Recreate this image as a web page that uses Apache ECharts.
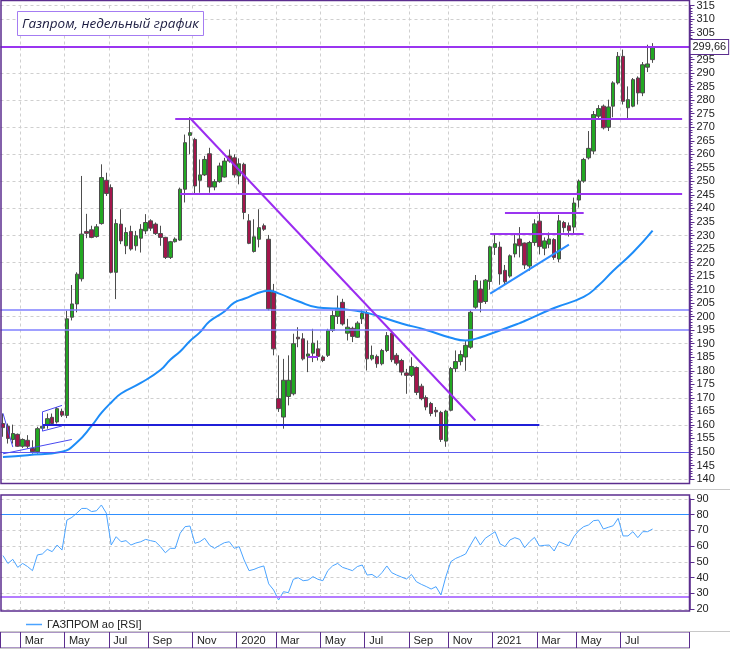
<!DOCTYPE html>
<html>
<head>
<meta charset="utf-8">
<script src="https://cdn.jsdelivr.net/npm/echarts@6/dist/echarts.min.js"></script>
<style>
    html, body { margin: 0; padding: 0; background: #fff; }
    #chart { width: 730px; height: 649px; }
</style>
</head>
<body>
<div id="chart"></div>
<script>
// недельные свечи Газпрома, фев 2019 - авг 2021
var opens = [160.5, 159.5, 154.6, 156.5, 152.1, 154.3, 151.3, 150.1, 158.8, 159.9, 162.8, 161.1, 165.0, 163.5, 199.8, 204.7, 214.0, 231.5, 232.1, 229.6,
    234.4, 250.4, 247.7, 216.4, 234.2, 226.2, 231.5, 226.2, 229.0, 231.7, 235.4, 234.2, 230.7, 229.3, 221.9, 227.7, 228.3, 247.1, 267.0, 265.5,
    250.4, 252.4, 260.2, 247.9, 249.9, 251.6, 259.4, 258.7, 252.0, 256.3, 235.4, 224.1, 228.6, 233.6, 228.6, 209.0, 169.7, 162.9, 170.5, 171.5,
    192.4, 191.8, 185.4, 186.5, 188.1, 185.1, 185.7, 194.9, 200.1, 205.3, 193.9, 195.7, 192.4, 199.2, 201.3, 184.4, 185.3, 182.6, 187.5, 193.9,
    185.7, 183.8, 179.2, 178.3, 181.2, 174.3, 170.1, 167.9, 165.4, 164.6, 154.0, 165.4, 180.8, 183.4, 185.1, 188.7, 203.5, 210.2, 205.6, 213.0,
    225.6, 225.7, 217.1, 215.0, 223.2, 228.7, 227.2, 218.7, 227.4, 235.3, 225.3, 226.8, 228.5, 221.3, 234.8, 233.6, 233.1, 243.1, 250.1, 258.7,
    261.2, 274.1, 277.8, 270.0, 277.8, 286.4, 296.2, 277.2, 277.8, 288.2, 282.7, 292.2, 295.0];
var closes = [159.0, 155.0, 156.8, 152.1, 154.6, 152.1, 150.1, 158.6, 159.5, 162.3, 160.5, 166.0, 163.6, 199.2, 204.7, 215.7, 230.5, 230.8, 229.3, 233.2,
    251.4, 245.5, 216.4, 234.4, 228.0, 231.1, 225.0, 229.9, 232.3, 234.8, 232.7, 230.7, 229.3, 221.9, 227.7, 228.7, 247.1, 264.3, 268.0, 248.3,
    252.4, 258.1, 247.9, 249.9, 255.7, 257.5, 257.5, 252.4, 256.5, 238.5, 227.1, 229.5, 232.9, 232.3, 202.9, 188.1, 166.0, 176.5, 176.5, 190.0,
    191.8, 184.4, 186.2, 190.2, 185.3, 183.8, 194.9, 200.4, 202.9, 197.3, 196.1, 192.7, 197.6, 201.2, 184.4, 185.7, 182.6, 187.5, 193.0, 184.1,
    182.8, 179.5, 178.3, 181.6, 172.0, 169.7, 166.6, 164.2, 164.8, 154.6, 165.1, 180.8, 183.4, 186.0, 189.4, 201.6, 213.3, 205.3, 213.5, 225.8,
    227.0, 215.8, 212.9, 222.5, 226.9, 226.2, 219.1, 227.4, 234.3, 225.9, 228.0, 228.7, 221.9, 235.4, 232.9, 231.8, 242.0, 250.1, 258.1, 262.2,
    274.7, 276.9, 269.8, 277.5, 286.4, 296.2, 279.6, 280.2, 287.6, 282.7, 293.1, 293.4, 299.66];
var lows = [155.6, 153.1, 153.1, 151.9, 151.5, 151.3, 149.4, 149.4, 158.0, 158.6, 159.6, 160.5, 162.9, 162.5, 198.6, 201.6, 213.0, 229.0, 229.0, 229.2,
    234.0, 244.6, 216.0, 206.5, 226.8, 223.1, 224.4, 224.4, 223.7, 230.5, 231.7, 230.2, 226.2, 221.3, 221.3, 227.4, 228.0, 242.2, 260.0, 245.2,
    245.8, 252.0, 245.8, 246.7, 249.5, 251.4, 256.9, 251.4, 248.9, 236.0, 226.8, 223.7, 225.6, 231.7, 202.3, 185.7, 164.8, 158.6, 167.2, 170.9,
    188.7, 183.8, 179.5, 183.2, 183.8, 183.2, 185.1, 194.3, 197.3, 196.7, 191.2, 190.6, 192.2, 197.3, 180.1, 183.8, 181.1, 182.0, 186.9, 183.2,
    182.0, 178.3, 171.5, 177.7, 171.0, 169.1, 165.4, 163.2, 163.0, 153.7, 151.9, 165.0, 179.5, 182.0, 180.0, 188.1, 202.9, 201.6, 204.7, 210.0,
    222.8, 211.8, 212.0, 214.4, 221.9, 221.9, 217.6, 217.0, 226.2, 223.0, 222.7, 225.3, 221.0, 220.1, 231.1, 229.6, 230.8, 240.3, 249.5, 258.1,
    260.0, 273.2, 269.2, 268.6, 273.7, 285.8, 278.4, 273.2, 277.4, 278.4, 281.5, 290.4, 293.8];
var highs = [164.2, 160.5, 160.1, 156.8, 155.0, 156.2, 154.3, 159.3, 164.8, 164.2, 164.2, 166.6, 166.0, 202.2, 211.7, 216.4, 252.0, 238.0, 233.6, 234.2,
    256.3, 253.2, 248.9, 236.0, 239.7, 233.0, 233.6, 231.7, 234.2, 237.9, 236.0, 234.8, 233.6, 229.5, 228.0, 229.3, 247.7, 267.3, 273.7, 266.1,
    258.1, 259.4, 262.4, 250.8, 256.9, 258.7, 261.8, 260.0, 258.5, 256.9, 237.9, 236.0, 239.7, 234.4, 230.2, 212.1, 185.7, 184.4, 185.7, 193.7,
    196.1, 193.9, 191.2, 195.5, 191.2, 185.7, 195.5, 202.3, 207.8, 206.6, 199.2, 196.3, 198.3, 202.5, 202.3, 189.3, 186.0, 188.1, 194.3, 194.9,
    186.5, 184.4, 180.7, 185.0, 181.6, 175.2, 170.9, 168.5, 166.6, 165.2, 165.6, 181.4, 187.5, 187.5, 191.2, 202.3, 215.4, 213.3, 213.9, 226.2,
    230.5, 227.7, 219.1, 223.0, 230.5, 233.1, 227.4, 228.0, 236.0, 238.5, 229.3, 231.1, 229.0, 237.6, 235.4, 234.8, 244.0, 250.7, 258.7, 268.6,
    276.0, 278.2, 278.4, 280.2, 287.0, 297.8, 298.7, 285.1, 288.2, 288.8, 294.1, 300.5, 301.1];

// скользящая средняя: точки [неделя, значение]
var maPoints = [[0, 148.1], [5, 148.8], [12, 150.1], [15, 153.5], [18, 159.6], [20, 164.4], [22, 168.3], [24, 171.6], [28, 175.5], [32, 180.3],
    [34, 184.1], [36, 187.1], [38, 191.0], [40, 194.2], [42, 198.3], [45, 201.9], [47, 205.2], [49, 206.6], [53, 209.4], [54, 209.6],
    [56, 208.6], [60, 205.7], [64, 203.4], [68, 203.0], [70, 202.6], [74, 201.4], [81, 197.5], [86, 195.1], [91, 192.2], [94, 191.2],
    [96, 191.8], [99, 193.6], [105, 197.6], [106, 198.4], [112, 203.2], [118, 207.3], [121, 211.5], [124, 217.0], [128, 223.7], [132, 231.8]];

// RSI по неделям
var rsi = [54, 49, 51.6, 46.5, 49, 47, 44.4, 54.4, 55, 58, 56.5, 60.7, 57.5, 76.6, 78.3, 81, 84, 84, 82, 82.5,
    86.2, 81, 60.7, 66, 62.8, 63.5, 60.7, 62, 62.8, 64.3, 63.5, 62.8, 59.7, 55.8, 58.6, 58.6, 68.2, 72.4, 72.8, 61.8,
    62.8, 65, 60.5, 58.6, 60.5, 62.2, 62.8, 58.6, 59.7, 51.2, 44.4, 45.2, 46.5, 47.4, 36, 32.1, 25.7, 31, 30.4, 38.9,
    39.9, 38, 38.4, 40.6, 38.9, 38, 44.4, 47.5, 49, 46.5, 45.5, 44.4, 47, 48, 41.6, 42, 39.9, 43.1, 47.4, 43.1,
    41.6, 40.3, 39.1, 42, 37.4, 35.7, 34.3, 32.7, 34.2, 28.9, 40.6, 50.1, 52.2, 53.5, 55, 60.7, 66, 60.7, 65, 67.1,
    69.2, 61.5, 59.7, 63.9, 65.4, 64.3, 59, 62.8, 65.6, 60.1, 60.5, 60.7, 56.9, 62.8, 61.5, 60.1, 66, 69.9, 72.4, 73.5,
    76.2, 76.6, 70.9, 72, 73, 77.7, 66.5, 66.5, 69.2, 65.4, 69.2, 69.2, 70.9];

// подписи шкалы времени и недели, с которых они начинаются
var tickLabels = ['Mar', 'May', 'Jul', 'Sep', 'Nov', '2020', 'Mar', 'May', 'Jul', 'Sep', 'Nov', '2021', 'Mar', 'May', 'Jul'];
var tickWeeks = [4, 13, 22, 30, 39, 48, 56, 65, 74, 83, 91, 100, 109, 117, 126];

// уровни и линии разметки
var blueLevels = [150.07, 195.25, 202.6];
var lastPrice = 299.66;
var supportLine = [[8, 160.1], [109, 160.1]];
var purpleSegments = [
    [[35, 273.3], [138, 273.3]],
    [[36, 245.5], [138, 245.5]],
    [[102, 238.5], [118, 238.5]],
    [[99, 230.5], [118, 230.5]],
    [[62, 185.0], [64, 185.0]]
];
var downTrend = [[38, 273.4], [96, 161.6]];
var upTrend = [[99, 208.5], [115, 226.6]];
var thinBlue = [
    [[0, 149.3], [14, 154.6]],
    [[0, 164.3], [2, 151.8]],
    [[8, 164.8], [12, 167.2]],
    [[8, 157.7], [12, 159.6]],
    [[8, 164.8], [8, 157.7]]
];
var rsiUpper = 80, rsiLower = 27.5;

var weeks = [];
for (var i = 0; i < 140; i++) {
    weeks.push(new Date(Date.UTC(2019, 1, 4 + 7 * i)).toISOString().slice(0, 10));
}
var candles = opens.map(function (o, k) {
    return [o, closes[k], lows[k], highs[k]];
});

var frame = '#5b2d8e', purple = '#9a35f0', font = 'Liberation Sans';
var isTick = function (index) {
    return tickWeeks.indexOf(index) >= 0;
};
var seg = function (pts, color, width) {
    return [{coord: pts[0], lineStyle: {color: color, width: width, type: 'solid'}}, {coord: pts[1]}];
};

var lines = [{yAxis: lastPrice, lineStyle: {color: purple, width: 2, type: 'solid'},
    label: {show: true, position: 'end', distance: 1, formatter: '299,66', color: '#222', fontSize: 11, fontFamily: font,
        backgroundColor: '#fff', borderColor: frame, borderWidth: 1, padding: [2, 2, 1, 2]}}];
blueLevels.forEach(function (v, k) {
    lines.push({yAxis: v, lineStyle: {color: k === 0 ? '#5a5af0' : '#8080ff', width: k === 0 ? 1 : 1.5, type: 'solid'}});
});
lines.push(seg(supportLine, '#1f1fd8', 2));
purpleSegments.forEach(function (p) {
    lines.push(seg(p, purple, 2));
});
lines.push(seg(downTrend, '#9b2cf0', 2));
lines.push(seg(upTrend, '#2b8cff', 2));
thinBlue.forEach(function (p) {
    lines.push(seg(p, '#4848f0', 1));
});

var catAxis = function (gridIndex) {
    return {
        type: 'category', gridIndex: gridIndex, data: weeks, boundaryGap: true,
        axisLine: {show: false}, axisTick: {show: false}, axisLabel: {show: false},
        splitLine: {show: true, interval: isTick, lineStyle: {color: '#cfcfcf', type: [3, 3]}}
    };
};

var myChart = echarts.init(document.getElementById('chart'));
myChart.setOption({
    animation: false,
    grid: [
        {left: 0.5, width: 689, top: 4, height: 475},
        {left: 0.5, width: 689, top: 499, height: 110},
        {left: 0.5, width: 689, top: 632, height: 16, show: true, borderColor: frame, borderWidth: 1}
    ],
    legend: {
        data: [{name: 'ГАЗПРОМ ао [RSI]', icon: 'rect'}],
        left: 21, top: 614, itemWidth: 16, itemHeight: 1.5,
        textStyle: {fontSize: 11, color: '#222', fontFamily: font}
    },
    graphic: [
        {type: 'rect', shape: {x: 1, y: 0.5, width: 688.5, height: 483}, style: {fill: 'none', stroke: frame, lineWidth: 1.5}, z: 10},
        {type: 'line', shape: {x1: 0, y1: 489.5, x2: 730, y2: 489.5}, style: {stroke: '#c8c8c8', lineWidth: 1}},
        {type: 'rect', shape: {x: 1, y: 495, width: 688.5, height: 116}, style: {fill: 'none', stroke: frame, lineWidth: 1.5}, z: 10},
        {type: 'line', shape: {x1: 0, y1: 631.5, x2: 730, y2: 631.5}, style: {stroke: '#c8c8c8', lineWidth: 1}, z: 11},
        {type: 'rect', shape: {x: 17.5, y: 11.5, width: 186, height: 24}, style: {fill: '#fff', stroke: '#a47cf2', lineWidth: 1}, z: 20},
        {type: 'text', x: 22, y: 24, z: 21, style: {text: 'Газпром, недельный график', fill: '#1b1b40',
            font: 'italic 13.5px "Open Sans"', verticalAlign: 'middle'}}
    ],
    xAxis: [
        catAxis(0),
        catAxis(1),
        {
            type: 'category', gridIndex: 2, data: weeks, boundaryGap: true, position: 'top',
            axisLine: {show: true, lineStyle: {color: '#c8c8c8'}}, axisTick: {show: false},
            axisLabel: {show: true, inside: true, margin: 3, interval: isTick, align: 'left', padding: [0, 0, 0, 2],
                fontSize: 11, color: '#222', fontFamily: font,
                formatter: function (v, index) {
                    var k = tickWeeks.indexOf(index);
                    return k >= 0 ? tickLabels[k] : '';
                }},
            splitLine: {show: true, interval: isTick, lineStyle: {color: frame, width: 1}}
        }
    ],
    yAxis: [
        {
            type: 'value', gridIndex: 0, position: 'right', min: 140, max: 315, interval: 5,
            axisLine: {show: true, lineStyle: {color: frame, width: 1.5}},
            axisTick: {show: true, length: 5, lineStyle: {color: frame}},
            minorTick: {show: true, splitNumber: 5, length: 3, lineStyle: {color: frame}},
            axisLabel: {fontSize: 11, color: '#222', margin: 7, fontFamily: font},
            splitLine: {show: false}
        },
        {
            type: 'value', gridIndex: 0, min: 140, max: 315, interval: 10,
            axisLine: {show: false}, axisTick: {show: false}, axisLabel: {show: false},
            splitLine: {show: true, lineStyle: {color: '#cfcfcf', type: [3, 3]}}
        },
        {
            type: 'value', gridIndex: 1, position: 'right', min: 20, max: 90, interval: 10,
            axisLine: {show: true, lineStyle: {color: frame, width: 1.5}},
            axisTick: {show: true, length: 5, lineStyle: {color: frame}},
            axisLabel: {fontSize: 11, color: '#222', margin: 7, fontFamily: font},
            splitLine: {show: true, lineStyle: {color: '#cfcfcf', type: [3, 3]}}
        },
        {type: 'value', gridIndex: 2, show: false}
    ],
    series: [
        {
            name: 'Газпром', type: 'candlestick', xAxisIndex: 0, yAxisIndex: 0, data: candles, barWidth: 4,
            itemStyle: {color: '#22a822', color0: '#a3164c', borderColor: '#4d4d4d', borderColor0: '#4d4d4d', borderWidth: 1},
            markLine: {silent: true, symbol: 'none', label: {show: false}, data: lines}
        },
        {
            name: 'MA', type: 'line', xAxisIndex: 0, yAxisIndex: 0, data: maPoints, smooth: true, symbol: 'none',
            lineStyle: {color: '#1d8cf8', width: 2}
        },
        {
            name: 'ГАЗПРОМ ао [RSI]', type: 'line', xAxisIndex: 1, yAxisIndex: 2, data: rsi, symbol: 'none',
            itemStyle: {color: '#4aa3ff'}, lineStyle: {color: '#4aa3ff', width: 1},
            markLine: {silent: true, symbol: 'none', label: {show: false}, data: [
                {yAxis: rsiUpper, lineStyle: {color: '#2f8fff', width: 1, type: 'solid'}},
                {yAxis: rsiLower, lineStyle: {color: '#b47cff', width: 2, type: 'solid'}}
            ]}
        }
    ]
});
</script>
</body>
</html>
